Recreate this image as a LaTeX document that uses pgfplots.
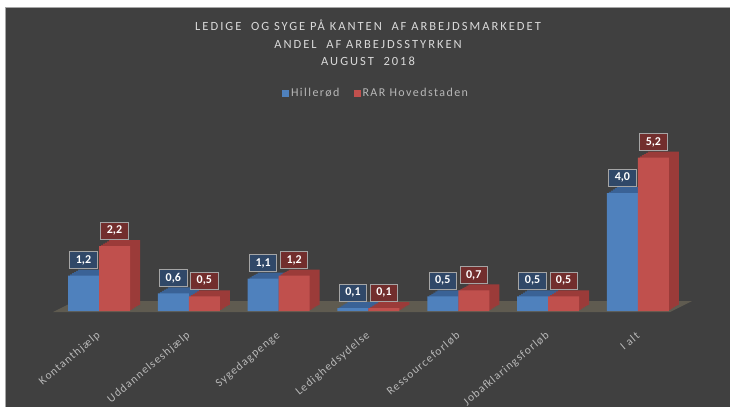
\documentclass[border=0pt]{standalone}
\usepackage{fontspec}
\setmainfont{Carlito}
\newfontfamily\chartfont[LetterSpace=10]{Carlito}
\newfontfamily\titlefont[LetterSpace=16]{Carlito}
\newfontfamily\legfont[LetterSpace=12]{Carlito}
\usepackage{pgfplots}
\usepackage{pgfplotstable}
\pgfplotsset{compat=1.18}
\definecolor{bg}{HTML}{404040}
\definecolor{floorc}{HTML}{5F5B50}
\definecolor{bblue}{HTML}{4F81BD}
\definecolor{bblued}{HTML}{3A6296}
\definecolor{rred}{HTML}{C0504D}
\definecolor{rredd}{HTML}{9B3B39}
\definecolor{lblue}{HTML}{2E4A6E}
\definecolor{lred}{HTML}{7A2C2B}
\definecolor{lborder}{HTML}{A5A5A5}
\definecolor{tickc}{HTML}{B8B8B8}
\definecolor{titlec}{HTML}{D9D9D9}

\pgfplotstableread{
x y
0 1.2
1 0.6
2 1.1
3 0.1
4 0.5
5 0.5
6 4.0
}\hil
\pgfplotstableread{
x y
0 2.2
1 0.5
2 1.2
3 0.1
4 0.7
5 0.5
6 5.2
}\rar

\newcommand{\lab}{\pgfmathprintnumber[fixed, fixed zerofill, precision=1, use comma, assume math mode=true]{\pgfplotspointmeta}}

\begin{document}
\begin{tikzpicture}
\begin{axis}[
  set layers,
  scale only axis, width=628.6pt, height=177pt,
  xmin=-0.5, xmax=6.5, ymin=0, ymax=6, enlargelimits=false,
  axis line style={draw=none}, ytick=\empty,
  xtick={0,...,6},
  xticklabels={Kontanthjælp,Uddannelseshjælp,Sygedagpenge,Ledighedsydelse,Ressourceforløb,Jobafklaringsforløb,I alt},
  major tick length=0pt,
  xticklabel shift=23pt,
  xticklabel style={rotate=40, anchor=east, inner sep=0pt, text=tickc, font=\chartfont\fontsize{11.5}{13}\selectfont},
  clip=false,
  nodes near coords style={font=\bfseries\fontsize{12}{14}\selectfont, text=white, draw=lborder, line width=0.9pt,
     fill opacity=0.88, text opacity=1, minimum height=17pt, inner xsep=6pt, inner ysep=0pt, anchor=south, yshift=6.5pt},
  legend style={at={(0.5121,1.2316)}, anchor=center, draw=none, fill=none, legend columns=2,
     font=\legfont\fontsize{12}{14}\selectfont, text=tickc,
     /tikz/every even column/.append style={column sep=12pt}},
  legend image code/.code={\fill[#1] (-3pt,-3.5pt) rectangle (4pt,3.5pt);},
]
\begin{pgfonlayer}{axis background}
\fill[white] (axis cs:-1.10245,-3.25424) rectangle (axis cs:7.02561,10.5424);
\fill[bg] (axis cs:-1.04677,-3.25424) rectangle (axis cs:7.02561,10.3051);
\draw[gray!70, line width=0.6pt] (axis cs:-1.04677,-3.25424) -- (axis cs:-1.04677,10.3051) -- (axis cs:7.02561,10.3051);
\fill[floorc] (axis cs:-0.51225,-0.0339) -- (axis cs:6.3585,-0.0339) -- (axis cs:6.6035,0.339) -- (axis cs:-0.26726,0.339) -- cycle;
\end{pgfonlayer}
\coordinate (WBL) at (axis cs:-1.10245,-3.25424);
\coordinate (WTR) at (axis cs:7.02561,10.5424);
\node[text=titlec, align=center, font=\titlefont\fontsize{12.5}{17.5}\selectfont] at (axis cs:2.9955,9.0847)
  {LEDIGE~ OG SYGE PÅ KANTEN~ AF ARBEJDSMARKEDET\\ANDEL~ AF ARBEJDSSTYRKEN\\AUGUST~ 2018};
% Hillerød depth layers
\addplot[ybar, bar width=31pt, bar shift=-5.5pt, yshift=6pt, fill=bblued, draw=none, forget plot] table {\hil};
\addplot[ybar, bar width=31pt, bar shift=-7.5pt, yshift=4.8pt, fill=bblued, draw=none, forget plot] table {\hil};
\addplot[ybar, bar width=31pt, bar shift=-9.5pt, yshift=3.6pt, fill=bblued, draw=none, forget plot] table {\hil};
\addplot[ybar, bar width=31pt, bar shift=-11.5pt, yshift=2.4pt, fill=bblued, draw=none, forget plot] table {\hil};
\addplot[ybar, bar width=31pt, bar shift=-13.5pt, yshift=1.2pt, fill=bblued, draw=none, forget plot] table {\hil};
\addplot[ybar, bar width=31pt, bar shift=-15.5pt, fill=bblue, draw=none] table {\hil};
\addlegendentry{Hillerød}
% RAR depth layers
\addplot[ybar, bar width=31pt, bar shift=25.5pt, yshift=6pt, fill=rredd, draw=none, forget plot] table {\rar};
\addplot[ybar, bar width=31pt, bar shift=23.5pt, yshift=4.8pt, fill=rredd, draw=none, forget plot] table {\rar};
\addplot[ybar, bar width=31pt, bar shift=21.5pt, yshift=3.6pt, fill=rredd, draw=none, forget plot] table {\rar};
\addplot[ybar, bar width=31pt, bar shift=19.5pt, yshift=2.4pt, fill=rredd, draw=none, forget plot] table {\rar};
\addplot[ybar, bar width=31pt, bar shift=17.5pt, yshift=1.2pt, fill=rredd, draw=none, forget plot] table {\rar};
\addplot[ybar, bar width=31pt, bar shift=15.5pt, fill=rred, draw=none] table {\rar};
\addlegendentry{RAR Hovedstaden}
% data labels on top
\addplot[ybar, bar width=31pt, bar shift=-15.5pt, draw=none, fill=none, forget plot,
   nodes near coords={\lab}, every node near coord/.append style={fill=lblue, xshift=-15.5pt}] table {\hil};
\addplot[ybar, bar width=31pt, bar shift=15.5pt, draw=none, fill=none, forget plot,
   nodes near coords={\lab}, every node near coord/.append style={fill=lred, xshift=15.5pt}] table {\rar};
\end{axis}
\pgfresetboundingbox
\useasboundingbox (WBL) rectangle (WTR);
\end{tikzpicture}
\end{document}
